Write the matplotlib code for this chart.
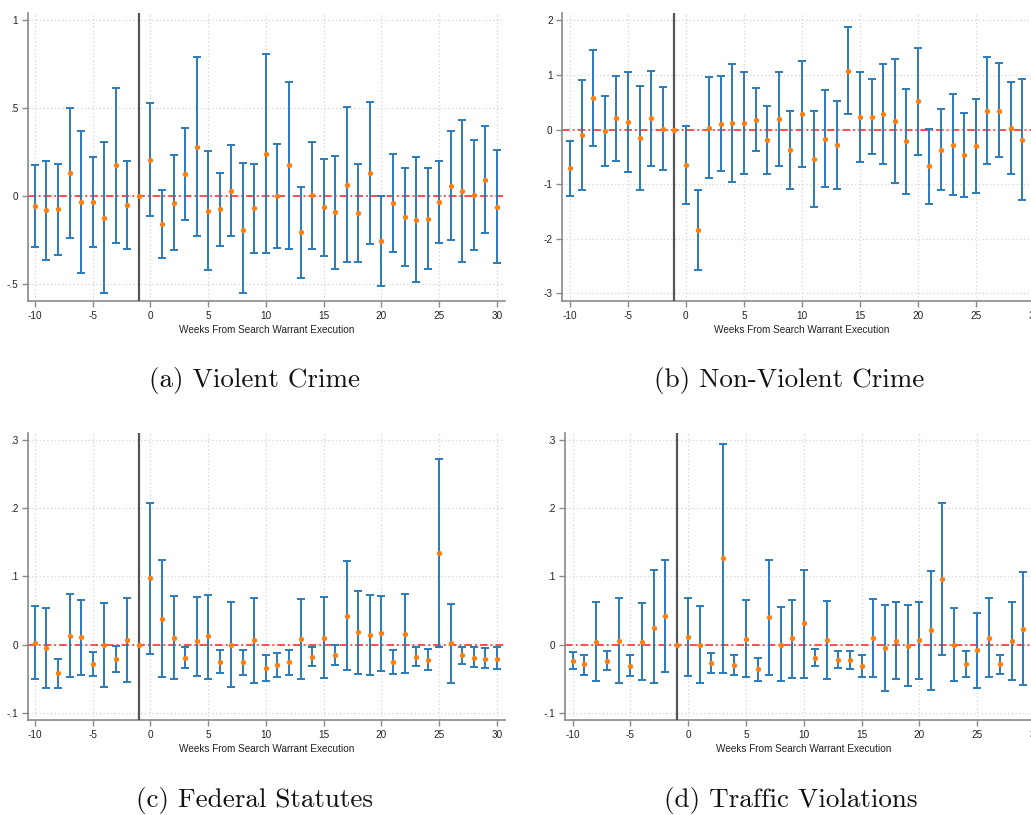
import numpy as np
import matplotlib.pyplot as plt
from matplotlib.ticker import FuncFormatter

plt.rcParams["axes.unicode_minus"] = False

nan = np.nan
weeks = list(range(-10, 31))

# (a) violent crime
est_a = [-0.057, -0.08, -0.074, 0.134, -0.032, -0.034, -0.123, 0.176, -0.051, 0.0,
         0.208, -0.159, -0.038, 0.125, 0.282, -0.081, -0.074, 0.032, -0.189, -0.068, 0.24,
         0.002, 0.176, -0.205, 0.006, -0.063, -0.091, 0.066, -0.097, 0.131, -0.254,
         -0.038, -0.117, -0.133, -0.127, -0.03, 0.061, 0.03, 0.008, 0.093, -0.059]
hi_a = [0.18, 0.2, 0.186, 0.504, 0.371, 0.222, 0.307, 0.617, 0.2, nan,
        0.528, 0.036, 0.237, 0.388, 0.792, 0.258, 0.133, 0.292, 0.191, 0.186, 0.807,
        0.295, 0.652, 0.053, 0.309, 0.214, 0.229, 0.506, 0.182, 0.534, 0.002,
        0.242, 0.159, 0.222, 0.159, 0.203, 0.369, 0.432, 0.318, 0.398, 0.261]
lo_a = [-0.29, -0.36, -0.333, -0.235, -0.434, -0.286, -0.551, -0.265, -0.297, nan,
        -0.114, -0.352, -0.307, -0.136, -0.227, -0.417, -0.28, -0.225, -0.551, -0.32, -0.324,
        -0.292, -0.297, -0.462, -0.297, -0.341, -0.413, -0.371, -0.375, -0.273, -0.509,
        -0.318, -0.398, -0.487, -0.411, -0.263, -0.248, -0.371, -0.305, -0.21, -0.379]

# (b) non-violent crime (week 30 is cut off in the source)
est_b = [-0.713, -0.098, 0.579, -0.024, 0.207, 0.14, -0.146, 0.207, 0.012, 0.0,
         -0.646, -1.841, 0.037, 0.11, 0.122, 0.122, 0.177, -0.189, 0.201, -0.372, 0.28,
         -0.543, -0.165, -0.287, 1.079, 0.238, 0.238, 0.28, 0.159, -0.213, 0.518,
         -0.671, -0.366, -0.274, -0.463, -0.299, 0.348, 0.348, 0.03, -0.183, nan]
hi_b = [-0.207, 0.909, 1.451, 0.622, 0.982, 1.061, 0.799, 1.073, 0.78, nan,
        0.067, -1.104, 0.963, 0.982, 1.201, 1.061, 0.756, 0.433, 1.061, 0.348, 1.25,
        0.348, 0.726, 0.518, 1.878, 1.061, 0.927, 1.207, 1.299, 0.75, 1.494,
        0.018, 0.372, 0.646, 0.305, 0.555, 1.329, 1.22, 0.878, 0.927, nan]
lo_b = [-1.226, -1.104, -0.299, -0.665, -0.573, -0.78, -1.098, -0.665, -0.744, nan,
        -1.366, -2.579, -0.896, -0.768, -0.957, -0.817, -0.402, -0.805, -0.659, -1.085, -0.683,
        -1.427, -1.061, -1.091, 0.28, -0.591, -0.451, -0.64, -0.988, -1.183, -0.47,
        -1.372, -1.104, -1.195, -1.238, -1.159, -0.634, -0.5, -0.805, -1.293, nan]

# (c) federal statutes
est_c = [0.003, -0.005, -0.042, 0.013, 0.011, -0.029, -0.001, -0.021, 0.006, 0.0,
         0.097, 0.038, 0.010, -0.019, 0.005, 0.012, -0.025, 0.0, -0.026, 0.006, -0.035,
         -0.030, -0.026, 0.008, -0.018, 0.010, -0.015, 0.042, 0.018, 0.014, 0.017,
         -0.025, 0.016, -0.018, -0.023, 0.134, 0.002, -0.016, -0.019, -0.021, -0.021]
hi_c = [0.057, 0.054, -0.021, 0.074, 0.066, -0.011, 0.061, -0.002, 0.069, nan,
        0.208, 0.124, 0.071, -0.004, 0.07, 0.073, -0.008, 0.063, -0.008, 0.069, -0.016,
        -0.012, -0.008, 0.067, -0.003, 0.07, -0.0005, 0.122, 0.079, 0.073, 0.072,
        -0.008, 0.074, -0.003, -0.007, 0.272, 0.06, -0.003, -0.004, -0.005, -0.004]
lo_c = [-0.051, -0.064, -0.063, -0.047, -0.044, -0.046, -0.062, -0.04, -0.055, nan,
        -0.014, -0.047, -0.05, -0.035, -0.046, -0.05, -0.041, -0.062, -0.044, -0.056, -0.054,
        -0.047, -0.044, -0.051, -0.032, -0.049, -0.03, -0.038, -0.043, -0.045, -0.039,
        -0.043, -0.042, -0.032, -0.038, -0.003, -0.056, -0.029, -0.033, -0.035, -0.036]

# (d) traffic violations (week 30 is cut off in the source)
est_d = [-0.024, -0.029, 0.004, -0.024, 0.005, -0.031, 0.004, 0.025, 0.042, 0.0,
         0.011, 0.0, -0.027, 0.127, -0.03, 0.008, -0.036, 0.04, 0.0, 0.009, 0.031,
         -0.02, 0.007, -0.022, -0.023, -0.032, 0.01, -0.005, 0.005, -0.002, 0.007,
         0.021, 0.096, 0.0, -0.028, -0.008, 0.01, -0.028, 0.005, 0.023, nan]
hi_d = [-0.011, -0.015, 0.063, -0.01, 0.068, -0.016, 0.061, 0.109, 0.124, nan,
        0.068, 0.057, -0.013, 0.295, -0.015, 0.065, -0.019, 0.124, 0.055, 0.066, 0.11,
        -0.007, 0.064, -0.009, -0.01, -0.016, 0.067, 0.058, 0.062, 0.058, 0.063,
        0.108, 0.208, 0.054, -0.009, 0.047, 0.068, -0.015, 0.062, 0.106, nan]
lo_d = [-0.036, -0.044, -0.054, -0.037, -0.057, -0.046, -0.052, -0.057, -0.04, nan,
        -0.046, -0.056, -0.042, -0.041, -0.045, -0.048, -0.053, -0.044, -0.054, -0.049, -0.049,
        -0.032, -0.05, -0.035, -0.036, -0.048, -0.048, -0.068, -0.051, -0.061, -0.05,
        -0.066, -0.016, -0.054, -0.047, -0.063, -0.048, -0.043, -0.052, -0.06, nan]

captions = ["(a) Violent Crime", "(b) Non-Violent Crime",
            "(c) Federal Statutes", "(d) Traffic Violations"]
yticks_top_left = [-0.5, 0, 0.5, 1]
yticks_top_right = [-3, -2, -1, 0, 1, 2]
yticks_bottom = [-0.1, 0, 0.1, 0.2, 0.3]
xticks = [-10, -5, 0, 5, 10, 15, 20, 25, 30]

W, H = 1031, 815
fig = plt.figure(figsize=(W / 100, H / 100), dpi=100)
fig.patch.set_facecolor("white")

BLUE = "#2b7bba"
ORANGE = "#ff7f0e"
GREY = "#8a8a8a"


def stata_fmt(v, pos):
    # stata drops the leading zero: .5, -.1
    s = f"{v:g}"
    if s.startswith("0."):
        s = s[1:]
    elif s.startswith("-0."):
        s = "-" + s[2:]
    return s


def px_axes(left, right, top, bottom):
    return fig.add_axes([left / W, 1 - bottom / H, (right - left) / W, (bottom - top) / H])


def panel(ax, est, lo, hi, yticks, ylim, xlim):
    est = np.array(est, dtype=float)
    lo = np.array(lo, dtype=float)
    hi = np.array(hi, dtype=float)
    x = np.array(weeks, dtype=float)
    ax.set_xlim(*xlim)
    ax.set_ylim(*ylim)
    ax.set_xticks(xticks)
    ax.set_yticks(yticks)
    ax.grid(True, linestyle=(0, (1, 2)), color="#d4d4d4", linewidth=0.9)
    ax.set_axisbelow(True)
    ax.axhline(0, color="#ff2020", linestyle=(0, (5, 2, 1.2, 2)), linewidth=1.1, zorder=2)
    ax.axvline(-1, color="#555555", linewidth=1.6, zorder=3)
    ok = ~np.isnan(lo)
    ax.errorbar(x[ok], est[ok], yerr=[est[ok] - lo[ok], hi[ok] - est[ok]], fmt="none",
                ecolor=BLUE, elinewidth=1.4, capsize=3, capthick=1.4, zorder=4)
    ax.plot(x, est, "o", color=ORANGE, markersize=3.8, markeredgewidth=0, zorder=5)
    for s in ["top", "right"]:
        ax.spines[s].set_visible(False)
    for s in ["left", "bottom"]:
        ax.spines[s].set_color(GREY)
        ax.spines[s].set_linewidth(1.2)
    ax.tick_params(direction="out", length=4, width=1, color=GREY, labelsize=7.2,
                   labelcolor="#222222", pad=3)
    ax.yaxis.set_major_formatter(FuncFormatter(stata_fmt))
    for t in ax.get_xticklabels() + ax.get_yticklabels():
        t.set_fontfamily("Liberation Sans")
    ax.set_xlabel("Weeks From Search Warrant Execution", fontsize=7.2,
                  fontfamily="Liberation Sans", color="#222222", labelpad=3)


ax_a = px_axes(28, 505, 12.7, 301)
panel(ax_a, est_a, lo_a, hi_a, yticks_top_left, (-0.595, 1.043), (-10.6, 30.7))

ax_b = px_axes(562.3, 1042, 12.7, 301)
panel(ax_b, est_b, lo_b, hi_b, yticks_top_right, (-3.14, 2.14), (-10.66, 30.7))

ax_c = px_axes(28, 505, 432.7, 720)
panel(ax_c, est_c, lo_c, hi_c, yticks_bottom, (-0.1107, 0.311), (-10.6, 30.7))

ax_d = px_axes(565, 1043, 432.7, 720)
panel(ax_d, est_d, lo_d, hi_d, yticks_bottom, (-0.1107, 0.311), (-10.66, 30.7))

cap_pos = [(254.5, 381), (789.5, 381), (254.5, 800), (791, 800)]
for (cx, cy), txt in zip(cap_pos, captions):
    fig.text(cx / W, 1 - cy / H, txt, ha="center", va="center", fontsize=19.5,
             family=["cmr10", "DejaVu Serif"], color="#111111")

fig.savefig("out.png", dpi=100, facecolor="white")
